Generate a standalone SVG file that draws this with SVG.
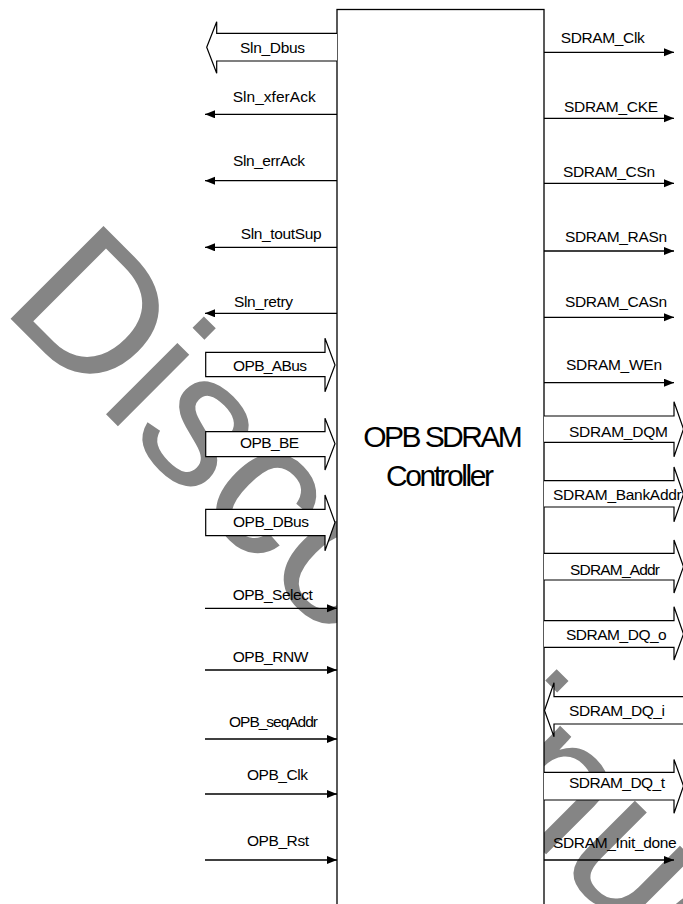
<svg xmlns="http://www.w3.org/2000/svg" width="683" height="904" viewBox="0 0 683 904">
<style>
.wm{font-family:"Liberation Sans",Arial,sans-serif;font-size:191px;fill:#858585}
.box{fill:#fff;stroke:#000;stroke-width:1.3}
.ln{fill:none;stroke:#000;stroke-width:1.3}
.bus{fill:#fff;stroke:#000;stroke-width:1.2;stroke-linejoin:miter}
.lb{font-family:"Liberation Sans",Arial,sans-serif;font-size:15.5px;fill:#000}
.tt{font-family:"Liberation Sans",Arial,sans-serif;font-size:30px;fill:#000}
</style>
<defs>
<marker id="ah" markerUnits="userSpaceOnUse" markerWidth="11" markerHeight="9" refX="10" refY="4" orient="auto">
<path d="M0,0 L10,4 L0,8 Z" fill="#000"/>
</marker>
</defs>
<rect width="683" height="904" fill="#fff"/>
<g id="watermark">
<text class="wm" transform="translate(-0.6,307.7) rotate(45)">Discontinued</text>
</g>
<g id="controller">
<rect class="box" x="337" y="9.5" width="207" height="910"/>
<text class="tt" x="363.3" y="446.7" textLength="159.4">OPB SDRAM</text>
<text class="tt" x="386" y="486" textLength="108">Controller</text>
</g>
<g id="connectors">
<!-- left outputs -->
<path class="bus" d="M337,33.3 L216.7,33.3 L216.7,21.7 L206.7,47.3 L216.7,73.3 L216.7,61 L337,61"/>
<path class="ln" marker-end="url(#ah)" d="M337,114.3 L205,114.3"/>
<path class="ln" marker-end="url(#ah)" d="M337,180.7 L205,180.7"/>
<path class="ln" marker-end="url(#ah)" d="M337,247.3 L205,247.3"/>
<path class="ln" marker-end="url(#ah)" d="M337,313.3 L205,313.3"/>
<!-- left input buses -->
<path class="bus" d="M205.7,352.3 L325,352.3 L325,338.3 L335,365 L325,391.7 L325,376.7 L205.7,376.7 Z"/>
<path class="bus" d="M205.7,431.7 L325,431.7 L325,418.3 L335,443.8 L325,470 L325,456.7 L205.7,456.7 Z"/>
<path class="bus" d="M205.7,509.3 L325,509.3 L325,495 L335,522.5 L325,550.7 L325,535.7 L205.7,535.7 Z"/>
<!-- left inputs -->
<path class="ln" marker-end="url(#ah)" d="M205,608.3 L337,608.3"/>
<path class="ln" marker-end="url(#ah)" d="M205,670 L337,670"/>
<path class="ln" marker-end="url(#ah)" d="M205,739 L337,739"/>
<path class="ln" marker-end="url(#ah)" d="M205,794 L337,794"/>
<path class="ln" marker-end="url(#ah)" d="M205,860 L337,860"/>
<!-- right outputs -->
<path class="ln" marker-end="url(#ah)" d="M544,52.3 L674,52.3"/>
<path class="ln" marker-end="url(#ah)" d="M544,118.3 L674,118.3"/>
<path class="ln" marker-end="url(#ah)" d="M544,183.3 L674,183.3"/>
<path class="ln" marker-end="url(#ah)" d="M544,251 L674,251"/>
<path class="ln" marker-end="url(#ah)" d="M544,317.3 L674,317.3"/>
<path class="ln" marker-end="url(#ah)" d="M544,382.7 L674,382.7"/>
<!-- right buses -->
<path class="bus" d="M544,416 L674,416 L674,401.7 L683.5,429 L674,456.7 L674,442.3 L544,442.3"/>
<path class="bus" d="M544,480.7 L674,480.7 L674,467 L683.5,494.3 L674,521.7 L674,507 L544,507"/>
<path class="bus" d="M544,553.3 L674,553.3 L674,540 L683.5,566.7 L674,593 L674,580 L544,580"/>
<path class="bus" d="M544,620.7 L674,620.7 L674,606.7 L683.5,634 L674,660 L674,647.3 L544,647.3"/>
<path class="bus" d="M690,696.7 L554,696.7 L554,682.7 L544.5,710.5 L554,736.7 L554,724 L690,724"/>
<path class="bus" d="M544,772.3 L674,772.3 L674,759.5 L683.5,786 L674,813.3 L674,800 L544,800"/>
<path class="ln" marker-end="url(#ah)" d="M544,860 L674,860"/>
</g>
<g id="labels">
<text class="lb" x="240" y="52.5" textLength="65">Sln_Dbus</text>
<text class="lb" x="232.7" y="101.7" textLength="83">Sln_xferAck</text>
<text class="lb" x="233" y="166" textLength="72">Sln_errAck</text>
<text class="lb" x="240.7" y="239.3" textLength="81">Sln_toutSup</text>
<text class="lb" x="234" y="306.7" textLength="59">Sln_retry</text>
<text class="lb" x="233" y="370.7" textLength="74">OPB_ABus</text>
<text class="lb" x="240" y="448.3" textLength="59">OPB_BE</text>
<text class="lb" x="233" y="527" textLength="76">OPB_DBus</text>
<text class="lb" x="232.7" y="600" textLength="80">OPB_Select</text>
<text class="lb" x="232.7" y="661.7" textLength="75.6">OPB_RNW</text>
<text class="lb" x="229" y="727" textLength="89">OPB_seqAddr</text>
<text class="lb" x="247" y="780" textLength="61">OPB_Clk</text>
<text class="lb" x="247" y="846" textLength="62">OPB_Rst</text>
<text class="lb" x="560.7" y="43.3" textLength="84">SDRAM_Clk</text>
<text class="lb" x="564" y="111.7" textLength="94">SDRAM_CKE</text>
<text class="lb" x="563" y="176.7" textLength="92">SDRAM_CSn</text>
<text class="lb" x="565" y="241.7" textLength="102">SDRAM_RASn</text>
<text class="lb" x="565" y="306.7" textLength="102">SDRAM_CASn</text>
<text class="lb" x="566" y="370" textLength="96">SDRAM_WEn</text>
<text class="lb" x="569" y="436.7" textLength="99">SDRAM_DQM</text>
<text class="lb" x="553" y="500" textLength="128.7">SDRAM_BankAddr</text>
<text class="lb" x="570" y="575" textLength="90">SDRAM_Addr</text>
<text class="lb" x="566" y="640" textLength="100.7">SDRAM_DQ_o</text>
<text class="lb" x="569" y="716" textLength="96">SDRAM_DQ_i</text>
<text class="lb" x="569" y="788.3" textLength="96">SDRAM_DQ_t</text>
<text class="lb" x="553" y="848.3" textLength="123.7">SDRAM_Init_done</text>
</g>
</svg>
